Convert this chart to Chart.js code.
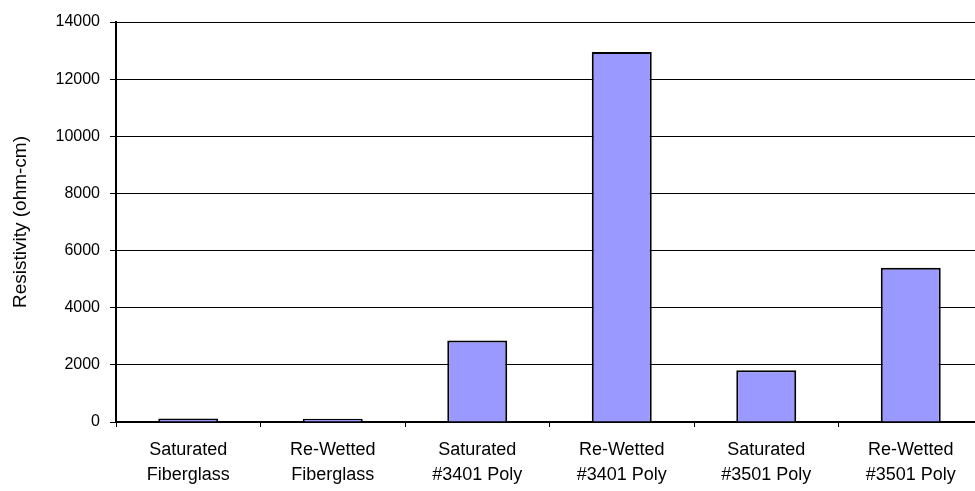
<!DOCTYPE html>
<html>
<head>
<meta charset="utf-8">
<script src="https://cdn.jsdelivr.net/npm/chart.js@4/dist/chart.umd.min.js"></script>
<style>
  html, body { margin: 0; padding: 0; background: #fff; overflow: hidden; }
  #wrap { width: 1000px; height: 491px; }
</style>
</head>
<body>
<div id="wrap"><canvas id="c" width="1000" height="491"></canvas></div>
<script>
// Resistivity of saturated and re-wetted samples (ohm-cm)
const categories = [
  ['Saturated', 'Fiberglass'],
  ['Re-Wetted', 'Fiberglass'],
  ['Saturated', '#3401 Poly'],
  ['Re-Wetted', '#3401 Poly'],
  ['Saturated', '#3501 Poly'],
  ['Re-Wetted', '#3501 Poly']
];
const resistivity = [120, 115, 2850, 12950, 1810, 5400];
const yTicks = [0, 2000, 4000, 6000, 8000, 10000, 12000, 14000];
const yTitle = 'Resistivity (ohm-cm)';

const FONT = 'Arial, "Liberation Sans", Helvetica, sans-serif';

new Chart(document.getElementById('c'), {
  type: 'bar',
  data: {
    labels: categories,
    datasets: [{
      data: resistivity,
      backgroundColor: '#9999FF',
      borderColor: '#000000',
      borderWidth: 2,
      borderSkipped: 'start',
      barPercentage: 0.415,
      categoryPercentage: 1.0
    }]
  },
  options: {
    responsive: false,
    animation: false,
    devicePixelRatio: 1,
    layout: { padding: { left: 0, top: 22, right: 17, bottom: 0 } },
    plugins: { legend: { display: false }, tooltip: { enabled: false } },
    scales: {
      x: {
        offset: true,
        grid: {
          offset: true,
          drawOnChartArea: false,
          drawTicks: true,
          tickLength: 5,
          color: '#000000',
          lineWidth: 1
        },
        border: { display: true, color: '#000000', width: 2 },
        ticks: {
          color: '#000000',
          padding: 11,
          maxRotation: 0,
          autoSkip: false,
          font: { family: FONT, size: 18, lineHeight: 1.39 }
        },
        afterFit: (s) => { s.height = 69; }
      },
      y: {
        min: 0,
        max: 14000,
        afterBuildTicks: (s) => { s.ticks = yTicks.map(v => ({ value: v })); },
        grid: {
          color: '#000000',
          lineWidth: 1,
          tickLength: 6,
          drawTicks: true
        },
        border: { display: true, color: '#000000', width: 2 },
        ticks: {
          color: '#000000',
          padding: 10,
          font: { family: FONT, size: 16 },
          callback: (v) => String(v)
        },
        title: {
          display: true,
          text: yTitle,
          color: '#000000',
          padding: { top: 9, bottom: 0 },
          font: { family: FONT, size: 19 }
        },
        afterFit: (s) => { s.width = 116; }
      }
    }
  }
});
</script>
</body>
</html>
